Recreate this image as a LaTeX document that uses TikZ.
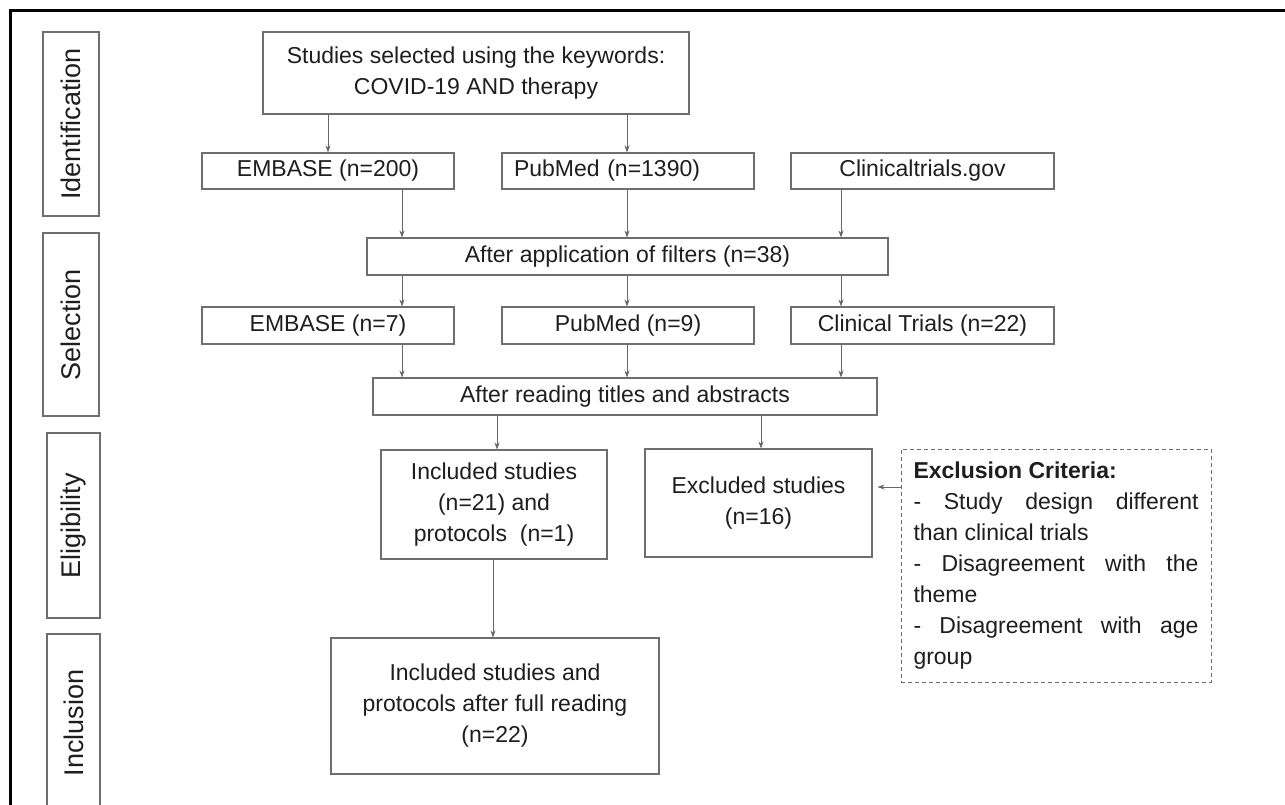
\documentclass[tikz,border=0pt]{standalone}
\usepackage{fontspec}
\setmainfont{Liberation Sans}
\usetikzlibrary{arrows.meta,calc}
\definecolor{boxc}{HTML}{6E6E6E}
\definecolor{txtc}{HTML}{1E1E1E}
\definecolor{arrc}{HTML}{666666}
\tikzset{
  fbox/.style={draw=boxc, line width=1.1pt, rectangle, inner sep=0pt, text=txtc,
    font=\fontsize{23}{31}\selectfont, align=center},
  lbox/.style={draw=boxc, line width=1.1pt, rectangle, inner sep=0pt, text=txtc,
    rotate=90, font=\fontsize{27}{32}\selectfont},
  critbox/.style={draw=boxc, line width=1pt, dash pattern=on 4pt off 3pt, rectangle,
    inner sep=0pt, text=txtc, font=\fontsize{23}{31}\selectfont, align=left},
  arr/.style={draw=arrc, line width=0.9pt, -{Stealth[length=7pt,width=5pt]}},
}
\begin{document}
\begin{tikzpicture}[x=1pt,y=-1pt]
\useasboundingbox (0,0) rectangle (1285,804);
\clip (0,0) rectangle (1285,804);
\fill[white] (0,0) rectangle (1285,804);
\draw[black, line width=3pt] (10,810) -- (10,10) -- (1290,10);

% stage labels
\node[lbox, minimum width=184pt, minimum height=56pt] (ident) at (71,124) {Identification};
\node[lbox, minimum width=183pt, minimum height=56pt] (sel) at (71,324.5) {Selection};
\node[lbox, minimum width=185pt, minimum height=53pt] (elig) at (73.5,525.5) {Eligibility};
\node[lbox, minimum width=178pt, minimum height=53pt] (incl) at (73.5,723) {Inclusion};

% helper coordinates
\coordinate (xL) at (402,0);
\coordinate (xM) at (627,0);
\coordinate (xR) at (841,0);
\coordinate (xI) at (497,0);
\coordinate (xE) at (761,0);
\coordinate (xF) at (493,0);
\coordinate (yX) at (0,487);

% boxes
\node[fbox, minimum width=426pt, minimum height=82pt] (top) at (476,73)
  {Studies selected using the keywords:\\ COVID-19 AND therapy};
\node[fbox, minimum width=252pt, minimum height=36pt] (emb1) at (328,171) {EMBASE (n=200)};
\node[fbox, text width=228pt, align=left, inner xsep=12pt, minimum height=36pt] (pub1) at (628,171) {PubMed (n=1390)};
\node[fbox, minimum width=263pt, minimum height=36pt] (cli1) at (922.5,171) {Clinicaltrials.gov};
\node[fbox, minimum width=521pt, minimum height=37pt] (filt) at (627.5,256.5) {After application of filters (n=38)};
\node[fbox, minimum width=252pt, minimum height=37pt] (emb2) at (328,325.5) {EMBASE (n=7)};
\node[fbox, minimum width=252pt, minimum height=37pt] (pub2) at (628,325.5) {PubMed (n=9)};
\node[fbox, minimum width=263pt, minimum height=37pt] (cli2) at (922.5,325.5) {Clinical Trials (n=22)};
\node[fbox, minimum width=504pt, minimum height=37pt] (titles) at (625,396.5) {After reading titles and abstracts};
\node[fbox, minimum width=226pt, minimum height=109pt] (inc1) at (494,504.5)
  {Included studies\\ (n=21) and\\ protocols\ \ (n=1)};
\node[fbox, minimum width=227pt, minimum height=108pt] (exc) at (758.5,503)
  {Excluded studies\\ (n=16)};
\node[critbox, minimum width=310pt, minimum height=233pt] (crit) at (1056,565.5)
  {\textbf{Exclusion Criteria:}\\
   \makebox[285pt][s]{- Study design different}\\
   than clinical trials\\
   \makebox[285pt][s]{- Disagreement with the}\\
   theme\\
   \makebox[285pt][s]{- Disagreement with age}\\
   group};
\node[fbox, minimum width=328pt, minimum height=136pt] (fin) at (495,706)
  {Included studies and\\ protocols after full reading\\ (n=22)};

% connectors
\draw[arr] (top.south -| emb1.north) -- (emb1.north);
\draw[arr] (top.south -| xM) -- (pub1.north -| xM);
\draw[arr] (emb1.south -| xL) -- (filt.north -| xL);
\draw[arr] (pub1.south -| xM) -- (filt.north -| xM);
\draw[arr] (cli1.south -| xR) -- (filt.north -| xR);
\draw[arr] (filt.south -| xL) -- (emb2.north -| xL);
\draw[arr] (filt.south -| xM) -- (pub2.north -| xM);
\draw[arr] (filt.south -| xR) -- (cli2.north -| xR);
\draw[arr] (emb2.south -| xL) -- (titles.north -| xL);
\draw[arr] (pub2.south -| xM) -- (titles.north -| xM);
\draw[arr] (cli2.south -| xR) -- (titles.north -| xR);
\draw[arr] (titles.south -| xI) -- (inc1.north -| xI);
\draw[arr] (titles.south -| xE) -- (exc.north -| xE);
\draw[arr] (inc1.south -| xF) -- (fin.north -| xF);
\draw[arr, shorten >=5pt] (crit.west |- yX) -- (exc.east |- yX);
\end{tikzpicture}
\end{document}
